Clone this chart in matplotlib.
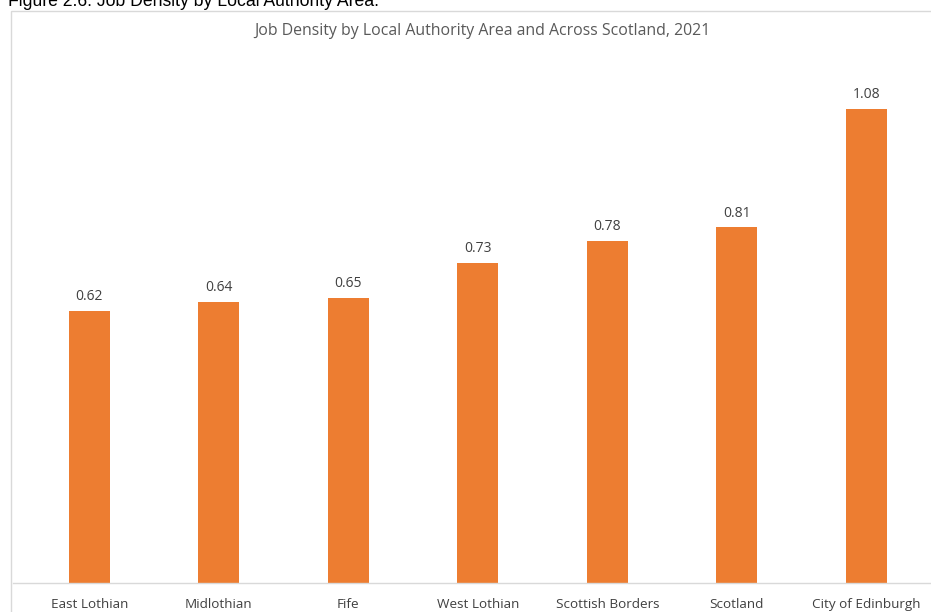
import matplotlib
matplotlib.use("Agg")
import matplotlib.pyplot as plt
from matplotlib.patches import Rectangle

categories = ["East Lothian", "Midlothian", "Fife", "West Lothian",
              "Scottish Borders", "Scotland", "City of Edinburgh"]
values = [0.62, 0.64, 0.65, 0.73, 0.78, 0.81, 1.08]
value_labels = ["0.62", "0.64", "0.65", "0.73", "0.78", "0.81", "1.08"]
title = "Job Density by Local Authority Area and Across Scotland, 2021"
caption = "Figure 2.6: Job Density by Local Authority Area."

W, H = 931, 612
fig = plt.figure(figsize=(W/100, H/100), dpi=100)
fig.patch.set_facecolor("white")

# chart border (extends past the right and bottom edges)
fig.add_artist(Rectangle((11/W, -0.05), 1.1, 1 - 11/H + 0.05, transform=fig.transFigure,
                         fill=False, edgecolor="#d9d9d9", linewidth=1))

fig.text(8/W, 1 - 6/H, caption, fontsize=12.7, family="Liberation Sans",
         color="black", ha="left", va="baseline")

ax_left = 13/W
ax_bottom = 1 - 583/H
ax_top = 1 - (583 - 1.2*438.9)/H
ax = fig.add_axes([ax_left, ax_bottom, 1 - ax_left, ax_top - ax_bottom])
x = list(range(len(categories)))
ax.bar(x, values, width=0.316, color="#ED7D31")
ax.set_xlim(-0.59, 6.5)
ax.set_ylim(0, 1.2)
for s in ["top", "right", "left"]:
    ax.spines[s].set_visible(False)
ax.spines["bottom"].set_color("#d9d9d9")
ax.spines["bottom"].set_linewidth(1)
ax.set_yticks([])
ax.set_xticks(x)
ax.set_xticklabels(categories, fontsize=9.7, family="Open Sans", color="#404040")
ax.tick_params(axis="x", length=0, pad=11)
for xi, v, lab in zip(x, values, value_labels):
    ax.annotate(lab, (xi, v), xytext=(0, 5), textcoords="offset points",
                ha="center", va="bottom", fontsize=10, family="Open Sans", color="#404040")

fig.text(482/W, 1 - 31/H, title, fontsize=11.4, family="Open Sans",
         color="#595959", ha="center", va="center")

fig.savefig("out.png", dpi=100)
